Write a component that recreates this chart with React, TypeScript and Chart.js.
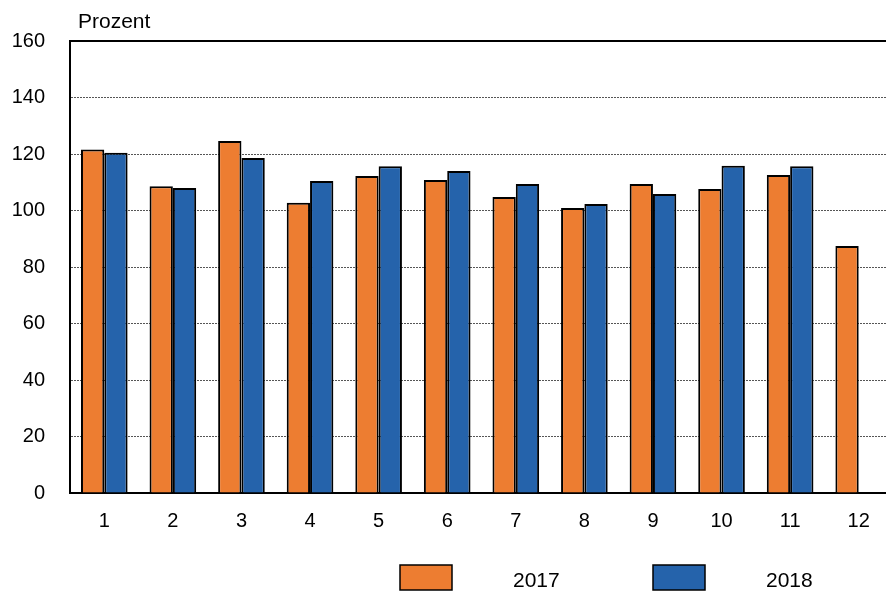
import React, { useEffect, useRef } from "react";
import { Chart, registerables } from "chart.js";

Chart.register(...registerables);

const categories = ["1", "2", "3", "4", "5", "6", "7", "8", "9", "10", "11", "12"];
const values2017 = [121.6, 108.6, 124.6, 102.7, 112.2, 110.8, 104.8, 100.9, 109.4, 107.6, 112.6, 87.4];
const values2018 = [120.4, 108.0, 118.6, 110.4, 115.7, 114.0, 109.4, 102.3, 105.8, 115.8, 115.7, null];
const seriesLabels = ["2017", "2018"];
const yTicks = [0, 20, 40, 60, 80, 100, 120, 140, 160];
const yUnit = "Prozent";

const ORANGE = "#ED7D31";
const BLUE = "#2563AB";
const FONT = "'Liberation Sans', Arial, sans-serif";

export default function App() {
  const ref = useRef<HTMLCanvasElement | null>(null);

  useEffect(() => {
    if (!ref.current) return;
    const extras = {
      id: "extras",
      afterDraw(chart: any) {
        const ctx = chart.ctx;
        ctx.save();
        ctx.fillStyle = "#000";
        ctx.font = `21px ${FONT}`;
        ctx.textBaseline = "middle";
        ctx.textAlign = "left";
        ctx.fillText(yUnit, 78, 22);
        chart.data.datasets.forEach((ds: any, i: number) => {
          const x = 400 + i * 253;
          const y = 565;
          ctx.fillStyle = ds.backgroundColor;
          ctx.fillRect(x, y, 52, 25);
          ctx.lineWidth = 1.5;
          ctx.strokeStyle = "#000";
          ctx.strokeRect(x, y, 52, 25);
          ctx.fillStyle = "#000";
          ctx.fillText(ds.label, x + 113, 581);
        });
        ctx.restore();
      },
    };
    const chart = new Chart(ref.current, {
      type: "bar",
      data: {
        labels: categories,
        datasets: [
          { label: seriesLabels[0], data: values2017, backgroundColor: ORANGE, borderColor: "#000", borderWidth: 2 },
          { label: seriesLabels[1], data: values2018 as any, backgroundColor: BLUE, borderColor: "#000", borderWidth: 2 },
        ],
      },
      options: {
        animation: false,
        responsive: false,
        devicePixelRatio: 1,
        layout: { padding: { top: 41, right: 7, left: 0, bottom: 0 } },
        datasets: { bar: { categoryPercentage: 0.68, barPercentage: 1 } },
        plugins: { legend: { display: false }, tooltip: { enabled: false } },
        scales: {
          x: {
            position: "bottom",
            grid: { display: false, drawTicks: false },
            border: { display: true, color: "#000", width: 2 },
            ticks: { color: "#000", font: { size: 20, family: FONT }, padding: 16 },
            afterFit: (s: any) => { s.height = 99; },
          },
          xTop: {
            position: "top",
            type: "category",
            grid: { display: false, drawTicks: false },
            border: { display: true, color: "#000", width: 2 },
            ticks: { display: false },
            afterFit: (s: any) => { s.height = 0; },
          },
          y: {
            min: 0,
            max: 160,
            afterBuildTicks: (s: any) => { s.ticks = yTicks.map((v) => ({ value: v })); },
            grid: { color: "#555", lineWidth: 1, drawTicks: false },
            border: { display: true, color: "#000", width: 2, dash: [2, 1] },
            ticks: { color: "#000", font: { size: 20, family: FONT }, padding: 25 },
            afterFit: (s: any) => { s.width = 70; },
          },
        },
      } as any,
      plugins: [extras],
    });
    return () => chart.destroy();
  }, []);

  return (
    <div style={{ position: "absolute", left: 0, top: 0, width: 886, height: 592, overflow: "hidden", background: "#fff" }}>
      <canvas ref={ref} width={900} height={592} style={{ display: "block" }} />
    </div>
  );
}
